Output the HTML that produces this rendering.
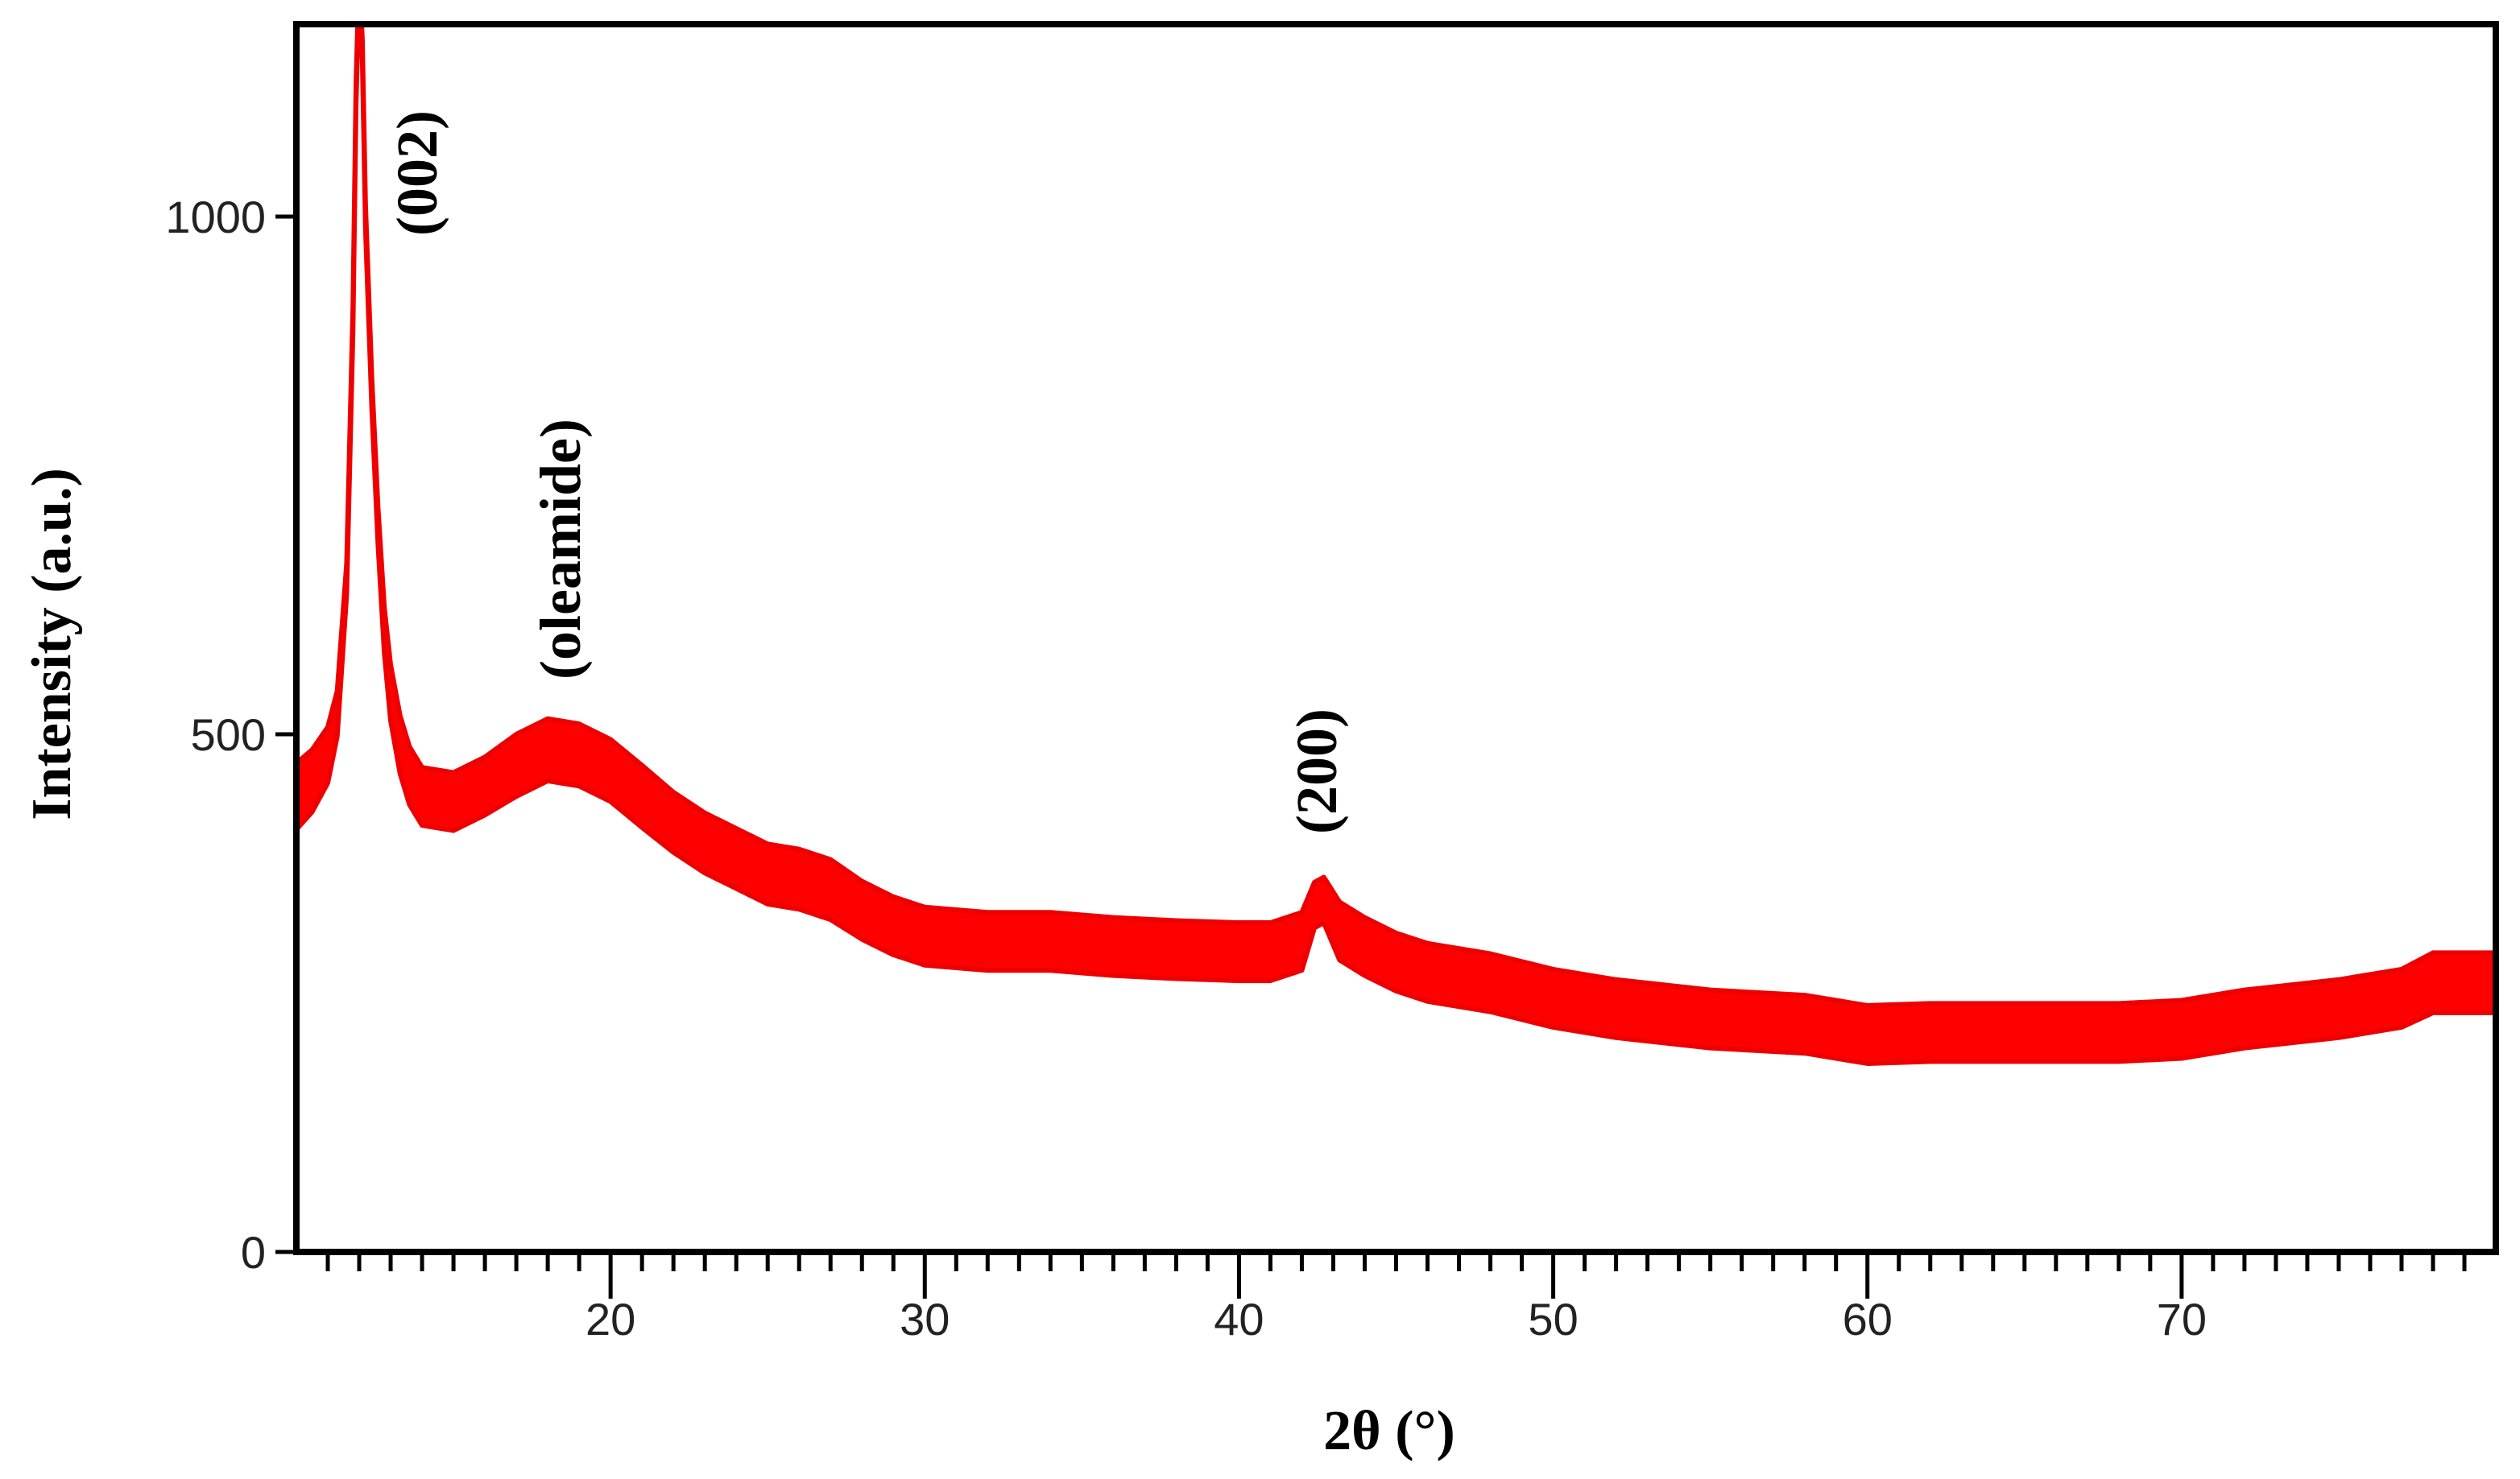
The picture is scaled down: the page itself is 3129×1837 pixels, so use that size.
<!DOCTYPE html>
<html><head><meta charset="utf-8"><style>
html,body{margin:0;padding:0;background:#fff;}
svg{display:block;}
</style></head><body>
<svg id="chart" width="3129" height="1837" xmlns="http://www.w3.org/2000/svg">
<defs><clipPath id="pc"><rect x="368" y="30" width="2731" height="1525"/></clipPath></defs>
<g id="series" clip-path="url(#pc)"></g>
<rect x="368" y="30" width="2731" height="1525" fill="none" stroke="#000" stroke-width="8"/>
<g id="axes"></g>
<text transform="translate(87,800) rotate(-90)" text-anchor="middle" font-family="Liberation Serif, serif" font-weight="bold" font-size="70">Intensity (a.u.)</text>
<text x="1725" y="1800" text-anchor="middle" font-family="Liberation Serif, serif" font-weight="bold" font-size="70">2θ (°)</text>
<text transform="translate(542,215) rotate(-90)" text-anchor="middle" font-family="Liberation Serif, serif" font-weight="bold" font-size="72">(002)</text>
<text transform="translate(720,682) rotate(-90)" text-anchor="middle" font-family="Liberation Serif, serif" font-weight="bold" font-size="72">(oleamide)</text>
<text transform="translate(1659,958) rotate(-90)" text-anchor="middle" font-family="Liberation Serif, serif" font-weight="bold" font-size="72">(200)</text>
</svg>
<script>
const angles = [10,10.5,11,11.3,11.6,11.8,11.9,12.0,12.1,12.2,12.4,12.6,12.8,13.0,13.3,13.6,14,15,16,17,18,19,20,21,22,23,24,25,26,27,28,29,30,32,34,36,38,40,41,42,42.4,42.7,43.2,44,45,46,48,50,52,55,58,60,62,65,68,70,72,75,77,78,80];
const intensity = [440,455,480,520,650,900,1120,1230,1160,1000,830,700,600,540,490,460,440,435,450,470,485,480,465,440,415,395,380,365,360,350,330,315,305,300,300,295,292,290,290,300,335,340,310,295,280,270,260,245,235,225,220,210,212,212,212,215,225,235,245,260,260];
const noise = [32,30,27,22,15,12,10,10,10,12,15,18,22,27,28,28,28,28,28,30,30,30,30,30,29,29,29,29,29,29,28,28,28,28,28,28,28,28,28,28,22,22,28,28,28,28,28,28,28,28,28,28,28,28,28,28,28,28,28,29,29];
const xTicksMajor = [20,30,40,50,60,70];
const yTicks = [0,500,1000];

const X0=368,X1=3099,Y0=1555,Y1000=269;
function xs(v){return X0+(v-10)*(X1-X0)/70;}
function ys(v){return Y0-v*(Y0-Y1000)/1000;}
const NS="http://www.w3.org/2000/svg";
const g=document.getElementById('series');
const axes=document.getElementById('axes');

let up=[],lo=[];
for(let i=0;i<angles.length;i++){
  up.push(xs(angles[i])+','+ys(intensity[i]+noise[i]));
  lo.unshift(xs(angles[i])+','+ys(intensity[i]-noise[i]));
}
const band=document.createElementNS(NS,'polygon');
band.setAttribute('points',up.concat(lo).join(' '));
band.setAttribute('fill','#f00');
band.setAttribute('stroke','#e00');
band.setAttribute('stroke-width','6');
band.setAttribute('stroke-linejoin','round');


g.appendChild(band);

for(let v=11;v<80;v++){
  const major=xTicksMajor.includes(v);
  const t=document.createElementNS(NS,'line');
  t.setAttribute('x1',xs(v));t.setAttribute('x2',xs(v));
  t.setAttribute('y1',Y0);t.setAttribute('y2',Y0+(major?58:24));
  t.setAttribute('stroke','#000');t.setAttribute('stroke-width','5');
  
  
  axes.appendChild(t);
}
xTicksMajor.forEach(v=>{
  const t=document.createElementNS(NS,'text');
  t.setAttribute('x',xs(v));t.setAttribute('y',1658);
  t.setAttribute('text-anchor','middle');
  t.setAttribute('font-family','Liberation Sans, sans-serif');
  t.setAttribute('font-size','56');t.setAttribute('fill','#222');
  t.textContent=v;
  
  
  axes.appendChild(t);
});
yTicks.forEach(v=>{
  const l=document.createElementNS(NS,'line');
  l.setAttribute('x1',X0-26);l.setAttribute('x2',X0);
  l.setAttribute('y1',ys(v));l.setAttribute('y2',ys(v));
  l.setAttribute('stroke','#000');l.setAttribute('stroke-width','5');
  
  
  axes.appendChild(l);
  const t=document.createElementNS(NS,'text');
  t.setAttribute('x',X0-38);t.setAttribute('y',ys(v)+20);
  t.setAttribute('text-anchor','end');
  t.setAttribute('font-family','Liberation Sans, sans-serif');
  t.setAttribute('font-size','56');t.setAttribute('fill','#222');
  t.textContent=v;
  
  
  axes.appendChild(t);
});
</script>
</body></html>
